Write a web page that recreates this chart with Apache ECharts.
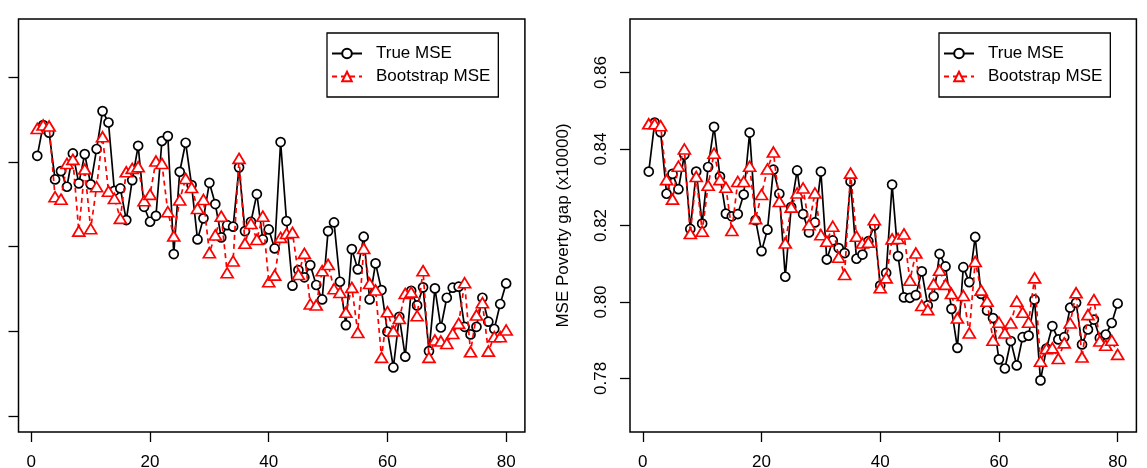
<!DOCTYPE html>
<html>
<head>
<meta charset="utf-8">
<script src="https://cdn.jsdelivr.net/npm/echarts@6/dist/echarts.min.js"></script>
<style>
html,body{margin:0;padding:0;background:#fff;}
#chart{width:1147px;height:468px;}
</style>
</head>
<body>
<div id="chart"></div>
<script>
// ---- data ----
const areaIndex = [1,2,3,4,5,6,7,8,9,10,11,12,13,14,15,16,17,18,19,20,
  21,22,23,24,25,26,27,28,29,30,31,32,33,34,35,36,37,38,39,40,
  41,42,43,44,45,46,47,48,49,50,51,52,53,54,55,56,57,58,59,60,
  61,62,63,64,65,66,67,68,69,70,71,72,73,74,75,76,77,78,79,80];

const leftTrue = [0.8535,0.8716,0.8671,0.8396,0.8445,0.8353,0.8549,0.8373,0.8545,0.8367,
  0.8575,0.8798,0.8731,0.8329,0.8343,0.8157,0.8392,0.8594,0.8235,0.8147,
  0.8182,0.8622,0.8651,0.7957,0.8441,0.8612,0.8363,0.8043,0.8167,0.8376,
  0.8251,0.8055,0.8127,0.8118,0.8467,0.8092,0.8147,0.8310,0.8043,0.8102,
  0.7990,0.8616,0.8151,0.7771,0.7863,0.7820,0.7892,0.7775,0.7690,0.8092,
  0.8143,0.7794,0.7539,0.7986,0.7867,0.8059,0.7690,0.7902,0.7745,0.7500,
  0.7290,0.7588,0.7353,0.7741,0.7655,0.7761,0.7386,0.7755,0.7525,0.7700,
  0.7759,0.7765,0.7529,0.7484,0.7529,0.7700,0.7559,0.7516,0.7663,0.7784];

const leftBoot = [0.8696,0.8716,0.8710,0.8294,0.8280,0.8490,0.8514,0.8092,0.8457,0.8106,
  0.8353,0.8647,0.8327,0.8284,0.8167,0.8441,0.8461,0.8471,0.8271,0.8308,
  0.8504,0.8490,0.8206,0.8063,0.8275,0.8402,0.8349,0.8225,0.8278,0.7965,
  0.8069,0.8180,0.7847,0.7916,0.8520,0.8020,0.8137,0.8043,0.8180,0.7794,
  0.7833,0.8055,0.8078,0.8084,0.7837,0.7961,0.7663,0.7657,0.7859,0.7896,
  0.7753,0.7731,0.7614,0.7761,0.7496,0.7990,0.7784,0.7745,0.7349,0.7618,
  0.7504,0.7578,0.7725,0.7733,0.7594,0.7859,0.7349,0.7451,0.7445,0.7431,
  0.7490,0.7549,0.7788,0.7382,0.7598,0.7671,0.7386,0.7471,0.7471,0.7510];

const rightTrue = [0.8341,0.8469,0.8444,0.8283,0.8335,0.8295,0.8385,0.8191,0.8341,0.8205,
  0.8353,0.8458,0.8328,0.8231,0.8224,0.8230,0.8281,0.8443,0.8214,0.8133,
  0.8189,0.8346,0.8283,0.8066,0.8248,0.8344,0.8230,0.8182,0.8208,0.8341,
  0.8111,0.8161,0.8141,0.8128,0.8315,0.8113,0.8124,0.8159,0.8200,0.8043,
  0.8076,0.8307,0.8120,0.8012,0.8011,0.8018,0.8080,0.7991,0.8015,0.8126,
  0.8093,0.7982,0.7880,0.8091,0.8052,0.8170,0.8021,0.7978,0.7958,0.7850,
  0.7826,0.7898,0.7834,0.7908,0.7912,0.8006,0.7795,0.7878,0.7937,0.7902,
  0.7908,0.7985,0.7998,0.7889,0.7928,0.7954,0.7906,0.7915,0.7945,0.7996];

const rightBoot = [0.8466,0.8466,0.8461,0.8320,0.8269,0.8355,0.8400,0.8179,0.8328,0.8185,
  0.8305,0.8389,0.8320,0.8300,0.8187,0.8315,0.8315,0.8355,0.8218,0.8281,
  0.8348,0.8392,0.8263,0.8154,0.8248,0.8285,0.8298,0.8202,0.8285,0.8176,
  0.8159,0.8198,0.8117,0.8072,0.8337,0.8172,0.8154,0.8156,0.8215,0.8037,
  0.8063,0.8165,0.8166,0.8178,0.8057,0.8128,0.7991,0.7980,0.8047,0.8083,
  0.8046,0.8022,0.7958,0.8017,0.7919,0.8106,0.8031,0.8002,0.7900,0.7947,
  0.7919,0.7945,0.8002,0.7973,0.7947,0.8063,0.7845,0.7878,0.7880,0.7852,
  0.7893,0.7945,0.8024,0.7856,0.7967,0.8006,0.7898,0.7887,0.7900,0.7863];

const xTicks = [0, 20, 40, 60, 80];
const leftYTicks = [0.70, 0.75, 0.80, 0.85, 0.90];
const rightYTicks = [0.78, 0.80, 0.82, 0.84, 0.86];
const seriesNames = ['True MSE', 'Bootstrap MSE'];
const rightYName = 'MSE Poverty gap (x10000)';

// ---- chart ----
const FONT = 'Liberation Sans, Arial, Helvetica, sans-serif';
const pairs = (vals) => areaIndex.map((x, k) => [x, vals[k]]);

function xAxisDef(gi) {
  return {
    type: 'value', gridIndex: gi, min: -2.16, max: 83.16,
    axisLine: {show: false},
    splitLine: {show: false},
    axisTick: {show: true, length: 10, inside: false, customValues: xTicks,
      lineStyle: {color: '#000', width: 1.3}},
    axisLabel: {show: true, customValues: xTicks, margin: 22, fontSize: 17,
      fontFamily: FONT, color: '#000'}
  };
}

function trueSeries(gi, vals) {
  return {
    name: seriesNames[0], type: 'line', xAxisIndex: gi, yAxisIndex: gi,
    data: pairs(vals), symbol: 'circle', symbolSize: 9, showAllSymbol: true,
    itemStyle: {color: '#fff', borderColor: '#000', borderWidth: 1.7},
    lineStyle: {color: '#000', width: 1.7}, z: 2, animation: false
  };
}
function bootSeries(gi, vals) {
  return {
    name: seriesNames[1], type: 'line', xAxisIndex: gi, yAxisIndex: gi,
    data: pairs(vals), symbol: 'triangle', symbolSize: [12, 10], showAllSymbol: true,
    itemStyle: {color: '#fff', borderColor: '#ff0000', borderWidth: 1.7},
    lineStyle: {color: '#ff0000', width: 1.7, type: [5, 4]}, z: 3, animation: false
  };
}
function legendDef(left) {
  return {
    orient: 'vertical', left: left, top: 33, data: seriesNames,
    itemWidth: 30, itemHeight: 12, itemGap: 6,
    padding: [12, 8, 12, 4],
    borderColor: '#000', borderWidth: 1.3, backgroundColor: '#fff',
    textStyle: {fontSize: 17, fontFamily: FONT, color: '#000', padding: [0, 0, 0, 9]},
    selectedMode: false
  };
}

const chart = echarts.init(document.getElementById('chart'), null, {renderer: 'canvas'});
chart.setOption({
  backgroundColor: '#fff',
  animation: false,
  grid: [
    {left: 18.5, top: 19, width: 506.4, height: 413, show: true, outerBoundsMode: 'none',
     containLabel: false,
     borderColor: '#000', borderWidth: 1.5, backgroundColor: 'transparent'},
    {left: 630, top: 19, width: 506.4, height: 413, show: true, outerBoundsMode: 'none',
     containLabel: false,
     borderColor: '#000', borderWidth: 1.5, backgroundColor: 'transparent'}
  ],
  xAxis: [xAxisDef(0), xAxisDef(1)],
  yAxis: [
    {type: 'value', gridIndex: 0, min: 0.691, max: 0.934, position: 'left',
     axisLine: {show: false, onZero: false}, splitLine: {show: false},
     axisTick: {show: true, inside: false, length: 10, customValues: leftYTicks,
       lineStyle: {color: '#000', width: 1.3}},
     axisLabel: {show: false}},
    {type: 'value', gridIndex: 1, min: 0.766, max: 0.874, position: 'left',
     axisLine: {show: false, onZero: false}, splitLine: {show: false},
     axisTick: {show: true, inside: false, length: 10, customValues: rightYTicks,
       lineStyle: {color: '#000', width: 1.3}},
     axisLabel: {show: true, customValues: rightYTicks, rotate: 90, margin: 20,
       fontSize: 17, fontFamily: FONT, color: '#000',
       formatter: (v) => v.toFixed(2)},
     name: rightYName, nameLocation: 'middle', nameGap: 58, nameRotate: 90,
     nameTextStyle: {fontSize: 17, fontFamily: FONT, color: '#000'}}
  ],
  legend: [legendDef(327), legendDef(939)],
  series: [
    trueSeries(0, leftTrue), bootSeries(0, leftBoot),
    trueSeries(1, rightTrue), bootSeries(1, rightBoot)
  ]
});
</script>
</body>
</html>
